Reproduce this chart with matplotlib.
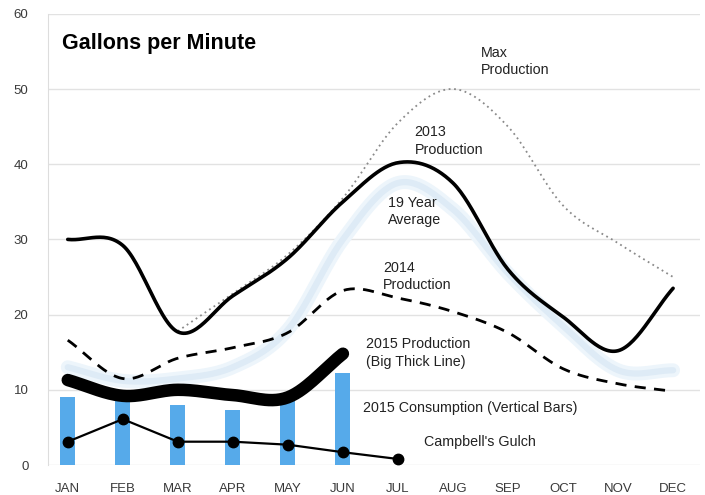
import numpy as np
import matplotlib
matplotlib.use("Agg")
import matplotlib.pyplot as plt

months = ["JAN", "FEB", "MAR", "APR", "MAY", "JUN", "JUL", "AUG", "SEP", "OCT", "NOV", "DEC"]

max_production = [None, None, 17.8, 22.8, 28.0, 35.5, 45.5, 50.0, 45.0, 34.5, 29.5, 25.0]
prod_2013 = [30.0, 29.2, 17.7, 22.5, 27.5, 35.0, 40.2, 37.5, 26.0, 19.7, 15.2, 23.5]
avg_19yr = [13.0, 11.2, 11.5, 13.0, 18.0, 30.0, 37.5, 34.0, 25.5, 18.5, 12.6, 12.6]
prod_2014 = [16.6, 11.5, 14.2, 15.6, 17.6, 23.2, 22.2, 20.4, 17.6, 12.8, 10.8, 9.8]
prod_2015 = [11.3, 9.2, 10.0, 9.3, 9.0, 14.8]
consumption_2015 = [9.1, 8.8, 8.0, 7.3, 8.6, 12.2]
campbells_gulch = [3.1, 6.1, 3.1, 3.1, 2.7, 1.7, 0.8]

yticks = [0, 10, 20, 30, 40, 50, 60]


def smooth(xs, ys, n=30):
    """Catmull-Rom curve through the given points (display smoothing only)."""
    xs = np.asarray(xs, float)
    ys = np.asarray(ys, float)
    px = np.concatenate([[2 * xs[0] - xs[1]], xs, [2 * xs[-1] - xs[-2]]])
    py = np.concatenate([[2 * ys[0] - ys[1]], ys, [2 * ys[-1] - ys[-2]]])
    outx, outy = [], []
    t = np.linspace(0, 1, n)
    for i in range(1, len(px) - 2):
        for p, out in ((px, outx), (py, outy)):
            p0, p1, p2, p3 = p[i - 1], p[i], p[i + 1], p[i + 2]
            seg = 0.5 * ((2 * p1) + (-p0 + p2) * t + (2 * p0 - 5 * p1 + 4 * p2 - p3) * t ** 2
                         + (-p0 + 3 * p1 - 3 * p2 + p3) * t ** 3)
            out.extend(seg if i == 1 else seg[1:])
    return np.array(outx), np.array(outy)


def series(vals):
    idx = [i for i, v in enumerate(vals) if v is not None]
    return idx, [vals[i] for i in idx]


plt.rcParams['font.family'] = ['Liberation Sans', 'DejaVu Sans']
fig = plt.figure(figsize=(7.05, 4.95), dpi=100)
ax = fig.add_axes([0.068, 0.0606, 0.925, 0.9115])

ax.set_xlim(-0.36, 11.49)
ax.set_ylim(0, 60)

for yv in yticks:
    ax.axhline(yv, color="#e2e2e2", lw=1.0, zorder=0)

# bars
ax.bar(range(len(consumption_2015)), consumption_2015, width=0.27, color="#56aaea", zorder=1)

# 19-year average (light blue, blurred)
x, y = smooth(*series(avg_19yr))
ax.plot(x, y, color="#edf5fb", lw=10, solid_capstyle="round", zorder=1.5)
ax.plot(x, y, color="#deebf6", lw=4.5, solid_capstyle="round", zorder=1.6)

# max production dotted
x, y = smooth(*series(max_production))
ax.plot(x, y, color="#8a8a8a", lw=1.3, ls=(0, (1, 2)), zorder=2)

# 2013 production
x, y = smooth(*series(prod_2013))
ax.plot(x, y, color="black", lw=2.6, solid_capstyle="round", zorder=3)

# 2014 production dashed
x, y = smooth(*series(prod_2014))
ax.plot(x, y, color="black", lw=2.0, ls=(0, (4, 3)), zorder=3)

# 2015 production thick
x, y = smooth(*series(prod_2015))
ax.plot(x, y, color="black", lw=9, solid_capstyle="round", zorder=4)

# Campbell's Gulch
ax.plot(range(len(campbells_gulch)), campbells_gulch, color="black", lw=1.6,
        marker="o", markersize=7.5, zorder=5)

ax.set_xticks(range(12))
ax.set_xticklabels(months)
ax.set_yticks(yticks)
ax.tick_params(axis="both", length=0, labelsize=9.5, colors="#3a3a3a")
ax.tick_params(axis="x", pad=13)
ax.tick_params(axis="y", pad=14)

for s in ["top", "right", "bottom"]:
    ax.spines[s].set_visible(False)
ax.spines["left"].set_color("#dddddd")

ax.text(-0.11, 56, "Gallons per Minute", fontsize=15.5, fontweight="bold", va="center", ha="left")

lab = dict(fontsize=10.3, color="#222222", ha="left", va="center", linespacing=1.3)
ax.text(7.5, 53.7, "Max\nProduction", **lab)
ax.text(6.3, 43.1, "2013\nProduction", **lab)
ax.text(5.82, 33.7, "19 Year\nAverage", **lab)
ax.text(5.73, 25.1, "2014\nProduction", **lab)
ax.text(5.42, 14.9, "2015 Production\n(Big Thick Line)", **lab)
ax.text(5.37, 7.6, "2015 Consumption (Vertical Bars)", **lab)
ax.text(6.47, 3.0, "Campbell's Gulch", **lab)

fig.savefig("out.png", dpi=100)
